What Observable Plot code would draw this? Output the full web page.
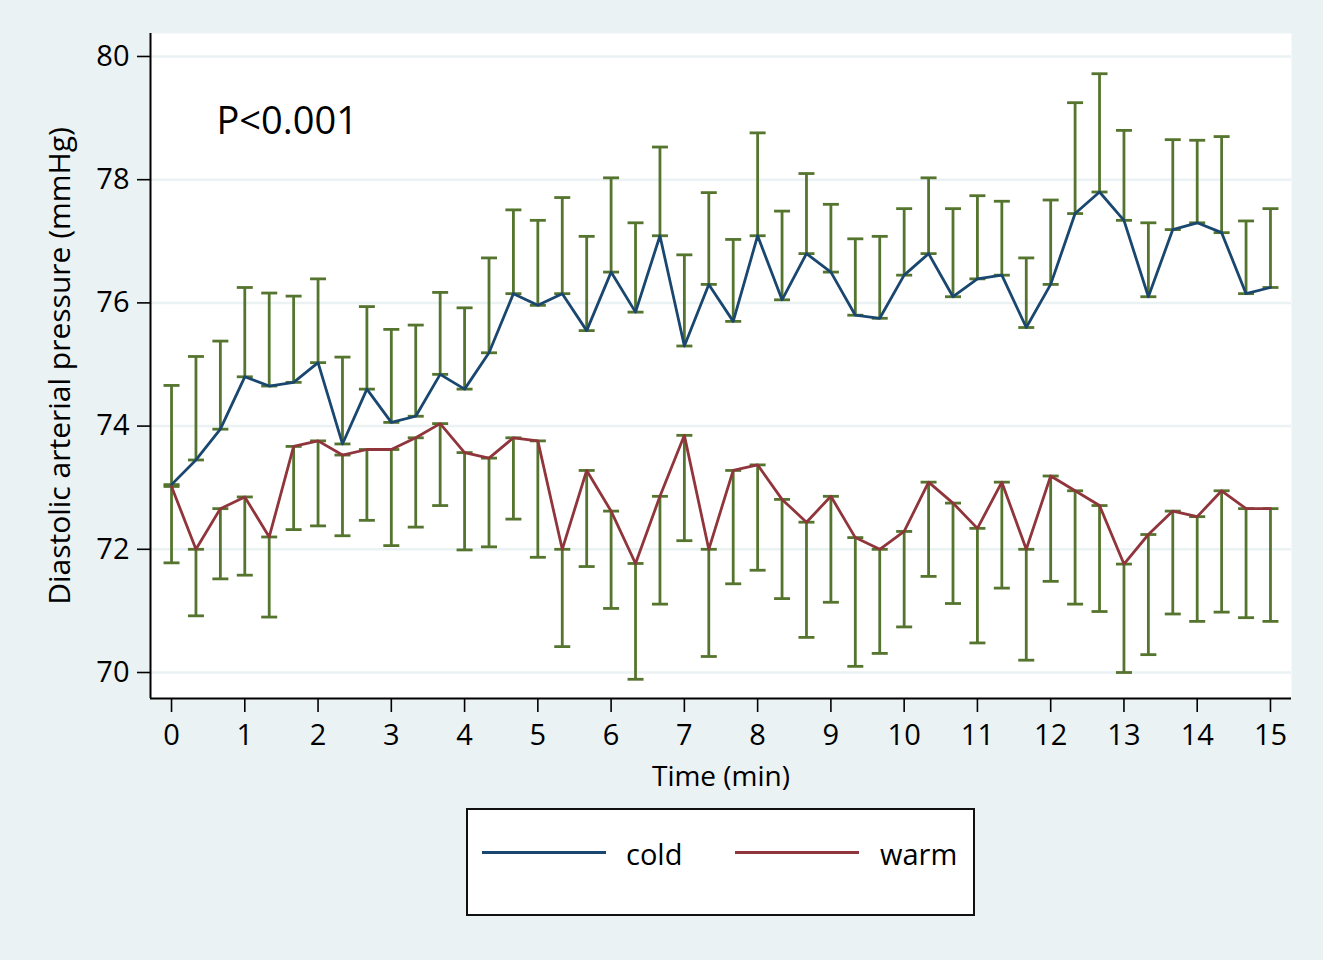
<!DOCTYPE html>
<html>
<head>
<meta charset="utf-8">
<script src="https://cdn.jsdelivr.net/npm/d3@7"></script>
<script src="https://cdn.jsdelivr.net/npm/@observablehq/plot@0.6"></script>
<style>
  html, body { margin: 0; padding: 0; background: #EAF2F3; }
  #wrap { position: relative; width: 1323px; height: 960px; font-family: "Open Sans", sans-serif; }
  #chart svg { display: block; }
  #legend { position: absolute; left: 466px; top: 808px; width: 505px; height: 104px;
            background: #fff; border: 2px solid #111; }
  .sw { position: absolute; height: 3px; width: 124px; top: 41px; }
  .lt { position: absolute; font-size: 29px; line-height: 1; top: 29px; color: #000; }
</style>
</head>
<body>
<div id="wrap">
  <div id="chart"></div>
  <div id="legend">
    <div class="sw" style="left:14px;background:#1A476F"></div>
    <div class="lt" style="left:158px">cold</div>
    <div class="sw" style="left:267px;background:#90353B"></div>
    <div class="lt" style="left:412px">warm</div>
  </div>
</div>
<script>
// Time points in seconds (every 20 s, 0–15 min)
const timeSec = [0,20,40,60,80,100,120,140,160,180,200,220,240,260,280,300,320,340,360,380,400,420,440,460,480,500,520,540,560,580,600,620,640,660,680,700,720,740,760,780,800,820,840,860,880,900];

const coldMean = [73.05,73.45,73.95,74.80,74.65,74.71,75.03,73.71,74.60,74.06,74.16,74.84,
  74.60,75.19,76.15,75.96,76.15,75.55,76.50,75.85,77.09,75.30,76.30,75.70,
  77.09,76.05,76.80,76.50,75.80,75.75,76.45,76.80,76.10,76.39,76.45,75.60,
  76.30,77.45,77.80,77.34,76.10,77.19,77.30,77.14,76.15,76.25];
const coldUpper = [74.66,75.13,75.38,76.25,76.16,76.11,76.39,75.12,75.94,75.57,75.64,76.17,
  75.92,76.73,77.51,77.34,77.71,77.08,78.03,77.30,78.53,76.78,77.79,77.03,
  78.76,77.49,78.10,77.60,77.04,77.08,77.53,78.03,77.53,77.74,77.65,76.73,
  77.67,79.25,79.72,78.80,77.30,78.65,78.64,78.70,77.33,77.53];
const warmMean = [73.02,72.00,72.66,72.85,72.20,73.67,73.76,73.53,73.62,73.62,73.81,74.04,
  73.57,73.48,73.81,73.76,72.00,73.28,72.62,71.77,72.86,73.85,72.00,73.28,
  73.37,72.81,72.44,72.86,72.19,72.00,72.29,73.09,72.75,72.34,73.09,72.00,
  73.19,72.95,72.71,71.76,72.24,72.62,72.53,72.95,72.66,72.66];
const warmLower = [71.78,70.92,71.52,71.58,70.90,72.32,72.38,72.22,72.47,72.06,72.36,72.71,
  71.99,72.04,72.49,71.87,70.42,71.72,71.04,69.89,71.11,72.14,70.26,71.44,
  71.66,71.20,70.57,71.14,70.10,70.31,70.74,71.56,71.12,70.48,71.37,70.20,
  71.48,71.11,70.99,70.00,70.29,70.95,70.83,70.98,70.89,70.83];

const groups = ["cold", "warm"];
const xTicks = [0,1,2,3,4,5,6,7,8,9,10,11,12,13,14,15];
const yTicks = [70,72,74,76,78,80];
const annotation = "P<0.001";
const xLabel = "Time (min)";
const yLabel = "Diastolic arterial pressure (mmHg)";

const colors = {cold: "#1A476F", warm: "#90353B"};
const barColor = "#55752F";
const xDomain = [-0.287, 15.287];
const yDomain = [69.578, 80.373];

const cold = timeSec.map((s, i) => ({t: s / 60, mean: coldMean[i], end: coldUpper[i], group: "cold"}));
const warm = timeSec.map((s, i) => ({t: s / 60, mean: warmMean[i], end: warmLower[i], group: "warm"}));
const bars = cold.concat(warm);
const caps = bars.flatMap(d => [{t: d.t, v: d.mean}, {t: d.t, v: d.end}]);

const capSymbol = {
  draw(ctx) { ctx.moveTo(-8, 0); ctx.lineTo(8, 0); }
};

const chart = Plot.plot({
  width: 1323,
  height: 800,
  marginTop: 33,
  marginLeft: 150,
  marginRight: 32,
  marginBottom: 102,
  style: {background: "transparent", fontFamily: "'Open Sans', sans-serif", fontSize: "29px", color: "#000"},
  x: {domain: xDomain},
  y: {domain: yDomain},
  marks: [
    Plot.frame({fill: "white", stroke: "none"}),
    Plot.gridY(yTicks, {stroke: "#EAF2F3", strokeOpacity: 1, strokeWidth: 2.5}),
    Plot.ruleX(bars, {x: "t", y1: "mean", y2: "end", stroke: barColor, strokeWidth: 2.8}),
    Plot.dot(caps, {x: "t", y: "v", symbol: capSymbol, fill: "none", stroke: barColor, strokeWidth: 2.8}),
    Plot.line(cold, {x: "t", y: "mean", stroke: colors.cold, strokeWidth: 2.8}),
    Plot.line(warm, {x: "t", y: "mean", stroke: colors.warm, strokeWidth: 2.8}),
    Plot.axisY(yTicks, {tickSize: 13, tickPadding: 8, strokeWidth: 1.6, tickFormat: d => String(d), label: null, fontSize: 29}),
    Plot.axisX(xTicks, {tickSize: 14, tickPadding: 12, strokeWidth: 1.6, tickFormat: d => String(d), label: null, fontSize: 29}),
    Plot.ruleX([xDomain[0]], {stroke: "#000", strokeWidth: 2}),
    Plot.ruleY([yDomain[0]], {stroke: "#000", strokeWidth: 2}),
    Plot.text([yLabel], {frameAnchor: "left", dx: -90, rotate: -90, textAnchor: "middle", fontSize: 30, fill: "#000"}),
    Plot.text([xLabel], {frameAnchor: "bottom", dy: 87, textAnchor: "middle", fontSize: 28, fill: "#000"}),
    Plot.text([annotation], {frameAnchor: "top-left", dx: 66, dy: 74, textAnchor: "start", fontSize: 38, fill: "#000"})
  ]
});
document.getElementById("chart").appendChild(chart);
</script>
</body>
</html>
